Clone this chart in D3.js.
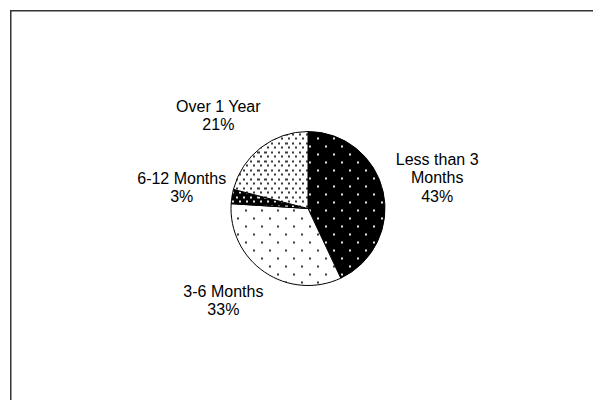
<!DOCTYPE html>
<html>
<head>
<meta charset="utf-8">
<script src="https://cdn.jsdelivr.net/npm/d3@7"></script>
<style>
  html, body { margin: 0; padding: 0; background: #fff; }
  svg { display: block; }
  text { font-family: "Liberation Sans", Arial, sans-serif; font-size: 16px; fill: #000; }
</style>
</head>
<body>
<svg id="chart" width="593" height="400"></svg>
<script>
// Time-to-resolution breakdown (percent of cases)
const categories = ["Less than 3 Months", "3-6 Months", "6-12 Months", "Over 1 Year"];
const values = [43, 33, 3, 21];
// How each category name is broken over lines in its label
const categoryLines = [["Less than 3", "Months"], ["3-6 Months"], ["6-12 Months"], ["Over 1 Year"]];

const W = 593, H = 400;
const svg = d3.select("#chart");

// Dot fills, one per slice
const fills = [
  { id: "p0", bg: "#000", dot: "#e6e6e6", w: 16, h: 16 },
  { id: "p1", bg: "#fff", dot: "#3a3a3a", w: 16, h: 16 },
  { id: "p2", bg: "#000", dot: "#e6e6e6", w: 7, h: 9 },
  { id: "p3", bg: "#fff", dot: "#3a3a3a", w: 7, h: 9 }
];
const defs = svg.append("defs");
fills.forEach(f => {
  const p = defs.append("pattern")
    .attr("id", f.id)
    .attr("patternUnits", "userSpaceOnUse")
    .attr("width", f.w).attr("height", f.h);
  p.append("rect").attr("width", f.w).attr("height", f.h).attr("fill", f.bg);
  p.append("rect").attr("x", 1).attr("y", 1).attr("width", 2).attr("height", 2).attr("fill", f.dot);
  p.append("rect").attr("x", 1 + Math.round(f.w / 2)).attr("y", 1 + Math.round(f.h / 2))
    .attr("width", 2).attr("height", 2).attr("fill", f.dot);
});

// Chart frame (runs past the right and bottom edges)
svg.append("rect")
  .attr("x", 10.75).attr("y", 10.75)
  .attr("width", W + 20).attr("height", H + 20)
  .attr("fill", "#fff")
  .attr("stroke", "#333").attr("stroke-width", 1.5);

const cx = 308, cy = 208.5, r = 77;
const g = svg.append("g").attr("transform", `translate(${cx},${cy})`);

const pie = d3.pie().sort(null).value(d => d)(values);
const arc = d3.arc().innerRadius(0).outerRadius(r);

g.selectAll("path.slice")
  .data(pie)
  .join("path")
  .attr("class", "slice")
  .attr("d", arc)
  .attr("fill", (d, i) => `url(#${fills[i].id})`)
  .attr("stroke", "#000")
  .attr("stroke-width", 1);

// Labels sit outside the rim, pushed out along each slice's mid-angle,
// with a small per-label nudge so boxes clear the rim evenly
const lineH = 18.2, gap = 14;
const nudge = [[0, -4], [-11, 2.5], [7.5, -3], [-8, -5.5]];
const tmp = svg.append("text").attr("visibility", "hidden");
pie.forEach((d, i) => {
  const lines = categoryLines[i].concat([d.value + "%"]);
  let w = 0;
  lines.forEach(s => { tmp.text(s); w = Math.max(w, tmp.node().getComputedTextLength()); });
  const h = lines.length * lineH;
  const a = (d.startAngle + d.endAngle) / 2;
  const ux = Math.sin(a), uy = -Math.cos(a);
  const bx = (r + gap) * ux + (w / 2) * ux + nudge[i][0];
  const by = (r + gap) * uy + (h / 2) * uy + nudge[i][1];
  const t = g.append("text").attr("text-anchor", "middle");
  lines.forEach((s, k) => {
    t.append("tspan")
      .attr("x", bx)
      .attr("y", by - h / 2 + lineH * (k + 1) - 4.5)
      .text(s);
  });
});
tmp.remove();
</script>
</body>
</html>
